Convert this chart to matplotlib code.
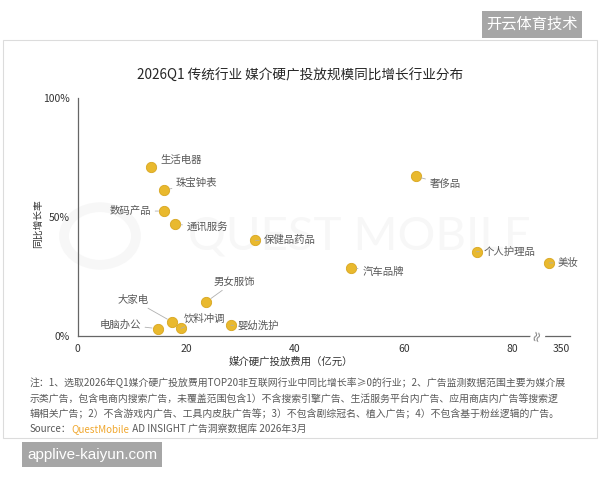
import numpy as np
import matplotlib
matplotlib.use('Agg')
import matplotlib.pyplot as plt
from matplotlib.patches import Rectangle, Circle

plt.rcParams['font.family'] = ['Noto Sans CJK SC', 'DejaVu Sans']

# ---------------- data ----------------
industries = ['生活电器', '珠宝钟表', '数码产品', '通讯服务', '保健品药品', '男女服饰', '大家电',
              '饮料冲调', '电脑办公', '婴幼洗护', '奢侈品', '个人护理品', '美妆', '汽车品牌']
spend  = [13.5, 15.9, 15.9, 18.0, 32.7, 23.7, 17.4, 19.0, 14.7, 28.2, 62.2, 73.4, 335, 50.3]   # 亿元
growth = [70.9, 61.3, 52.5, 46.9, 40.2, 14.4, 5.9, 3.2, 3.1, 4.5, 67.1, 35.4, 30.7, 28.7]      # %

x_ticks = [0, 20, 40, 60, 80, 350]
y_ticks = [0, 50, 100]
y_ticklabels = ['0%', '50%', '100%']

# label offsets (points) and alignment
label_pos = [(7, 5, 'left'), (8.6, 5, 'left'), (-9.4, 0, 'right'), (8, -1.5, 'left'),
             (5.8, 0, 'left'), (5, 14.4, 'left'), (-17, 16, 'right'), (2.2, 7.2, 'left'),
             (-12, 3, 'right'), (5, 0, 'left'), (10, -5.8, 'left'), (5, 0, 'left'),
             (5.8, 0, 'left'), (8, -3, 'left')]

TXT = '#595959'


# broken x axis: 0-85 linear, 85-330 squeezed, 330+ again linear
def fwd(v):
    v = np.asarray(v, dtype=float)
    return np.where(v <= 85, v,
                    np.where(v <= 330, 85 + (v - 85) / 245.0,
                             86 + (v - 330) * 0.1536))


def inv(u):
    u = np.asarray(u, dtype=float)
    return np.where(u <= 85, u,
                    np.where(u <= 86, 85 + (u - 85) * 245.0,
                             330 + (u - 86) / 0.1536))


fig = plt.figure(figsize=(6, 4.8), dpi=100)

# card frame
fig.patches.append(Rectangle((3 / 600, 1 - 438 / 480), 594 / 600, 398 / 480,
                             transform=fig.transFigure, fill=False,
                             edgecolor='#dcdcdc', lw=0.8, zorder=-2))

# faint watermark behind the plot
fig.patches.append(Circle((100 / 600, 1 - 236 / 480), 0.06, transform=fig.transFigure,
                          fill=False, edgecolor='#f7f7f7', lw=7, zorder=-1))
fig.text(360 / 600, 1 - 236 / 480, 'QUEST MOBILE', fontsize=34, color='#f7f7f7',
         ha='center', va='center', family='Lato', zorder=-1)

ax = fig.add_axes([0.1295, 0.3, 0.8205, 0.4958])
ax.set_zorder(1)
ax.patch.set_alpha(0)
ax.set_xscale('function', functions=(fwd, inv))
ax.set_xlim(0, 360)
ax.set_ylim(0, 100)

for s in ['top', 'right']:
    ax.spines[s].set_visible(False)
for s in ['left', 'bottom']:
    ax.spines[s].set_color('#666666')
    ax.spines[s].set_linewidth(0.9)

ax.set_xticks(x_ticks)
ax.set_xticklabels([str(t) for t in x_ticks])
ax.set_yticks(y_ticks)
ax.set_yticklabels(y_ticklabels)
ax.tick_params(length=0, labelsize=7.5, colors='#333333', pad=6)
ax.xaxis.set_minor_locator(matplotlib.ticker.NullLocator())

ax.scatter(spend, growth, s=55, color='#E9B92E', edgecolor='#D8A620', lw=0.6, zorder=3)

for name, x, y, (dx, dy, ha) in zip(industries, spend, growth, label_pos):
    ax.annotate(name, xy=(x, y), xytext=(dx, dy), textcoords='offset points',
                ha=ha, va='center', fontsize=7.5, color=TXT,
                arrowprops=dict(arrowstyle='-', color='#b0b0b0', lw=0.6,
                                shrinkA=1, shrinkB=4))

# axis break marker
ax.text(84.7, 0, '≈', rotation=75, ha='center', va='center', fontsize=9, color='#666666',
        bbox=dict(boxstyle='square,pad=0.05', fc='white', ec='none'), clip_on=False, zorder=4)

# titles
fig.text(300 / 600, 1 - 75 / 480, '2026Q1 传统行业 媒介硬广投放规模同比增长行业分布',
         ha='center', va='center', fontsize=9.8, color='#262626', weight='medium')
fig.text(38 / 600, 1 - 224 / 480, '同比增长率', rotation=90, ha='center', va='center',
         fontsize=7, color='#333333')
fig.text(291 / 600, 1 - 362 / 480, '媒介硬广投放费用（亿元）', ha='center', va='center',
         fontsize=7.5, color='#333333')

# footnotes
notes = ['注：1、选取2026年Q1媒介硬广投放费用TOP20非互联网行业中同比增长率≥0的行业；2、广告监测数据范围主要为媒介展',
         '示类广告，包含电商内搜索广告，未覆盖范围包含1）不含搜索引擎广告、生活服务平台内广告、应用商店内广告等搜索逻',
         '辑相关广告；2）不含游戏内广告、工具内皮肤广告等；3）不包含剧综冠名、植入广告；4）不包含基于粉丝逻辑的广告。']
for i, line in enumerate(notes):
    fig.text(30 / 600, 1 - (383 + 15.5 * i) / 480, line, ha='left', va='center',
             fontsize=7.1, color=TXT)
t1 = fig.text(30 / 600, 1 - 429 / 480, 'Source：', ha='left', va='center', fontsize=7.1, color=TXT)
t2 = ax.annotate('QuestMobile', xy=(1, 0.5), xycoords=t1, ha='left', va='center',
                 fontsize=7.1, color='#F0A830', annotation_clip=False)
ax.annotate(' AD INSIGHT 广告洞察数据库 2026年3月', xy=(1, 0.5), xycoords=t2, ha='left',
            va='center', fontsize=7.1, color=TXT, annotation_clip=False)

# watermark boxes
fig.text(532 / 600, 1 - 24.5 / 480, '开云体育技术', ha='center', va='center', fontsize=11,
         color='white',
         bbox=dict(boxstyle='square,pad=0.3', fc='#a6a6a6', ec='none'))
fig.text(92 / 600, 1 - 454.5 / 480, 'applive-kaiyun.com', ha='center', va='center',
         fontsize=11, color='white', family='Liberation Sans',
         bbox=dict(boxstyle='square,pad=0.35', fc='#a6a6a6', ec='none'))

fig.savefig('out.png', dpi=100, facecolor='white')
